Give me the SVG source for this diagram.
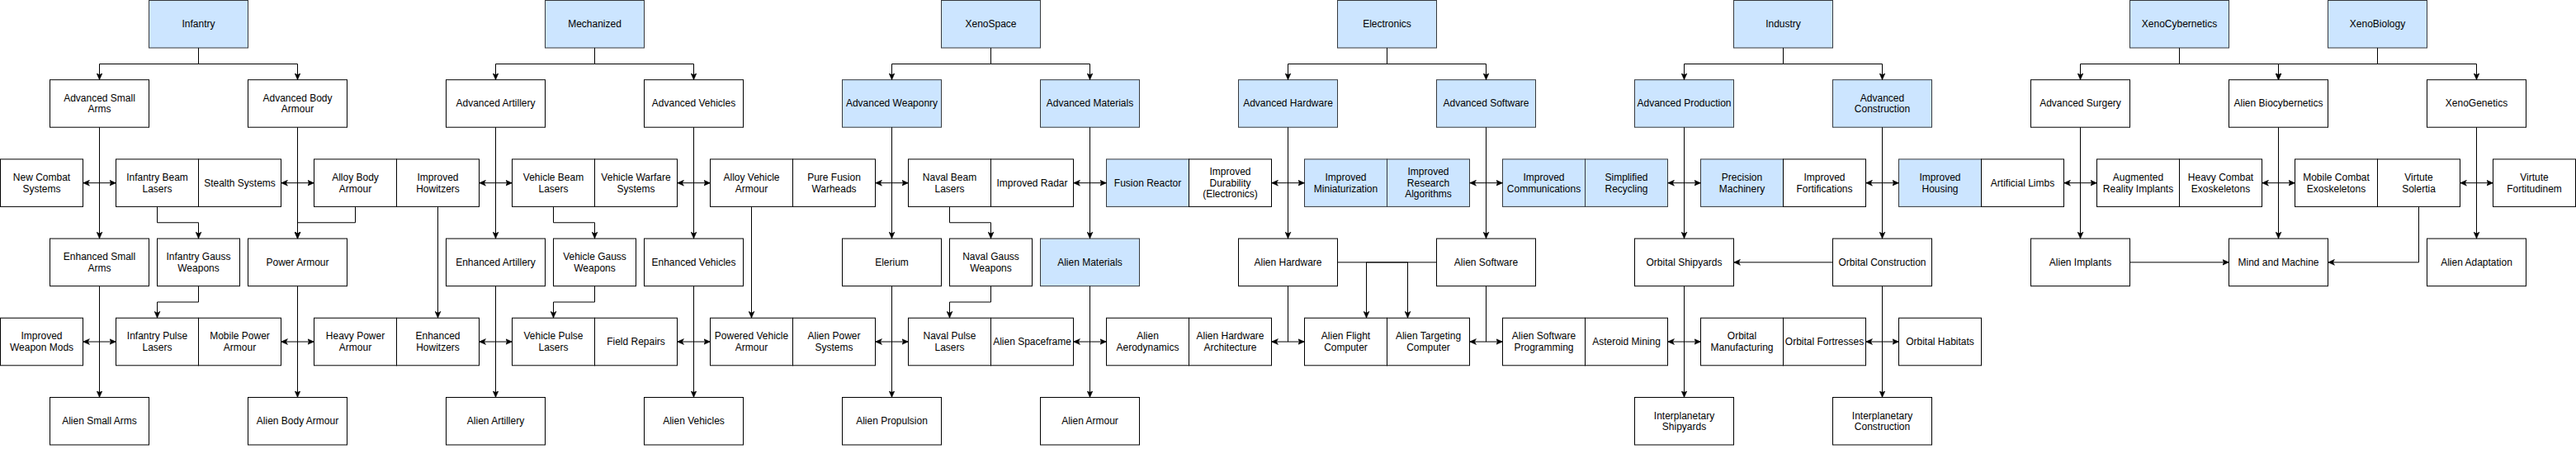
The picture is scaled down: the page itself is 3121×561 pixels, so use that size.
<svg xmlns="http://www.w3.org/2000/svg" width="3121" height="561" viewBox="0 0 3121 561">
<style>
rect{fill:#ffffff;stroke:#000000;stroke-width:1}
rect.b{fill:#cce5ff;stroke:#36393d}
text{font-family:"Liberation Sans",Arial,Helvetica,sans-serif;font-size:12px;fill:#000000;text-anchor:middle}
#connectors path{fill:none;stroke:#000000;stroke-width:1;marker-end:url(#ar)}
#connectors path.d{marker-start:url(#ar)}
#connectors path.n{marker-end:none}
</style>
<defs>
<marker id="ar" viewBox="0 0 8 8" refX="8" refY="4" markerWidth="8" markerHeight="8" markerUnits="userSpaceOnUse" orient="auto-start-reverse">
<path d="M0,0.5 L8,4 L0,7.5 L2,4 Z" fill="#000000" stroke="#000000" stroke-width="0.5"/>
</marker>
</defs>
<rect x="0" y="0" width="3121" height="561" style="fill:#ffffff;stroke:none"/>

<!-- Row 1 -->
<g id="infantry"><rect class="b" x="180.5" y="0.5" width="120" height="57.5"/><text x="240.5" y="33.25">Infantry</text></g>
<g id="mechanized"><rect class="b" x="660.5" y="0.5" width="120" height="57.5"/><text x="720.5" y="33.25">Mechanized</text></g>
<g id="xenospace"><rect class="b" x="1140.5" y="0.5" width="120" height="57.5"/><text x="1200.5" y="33.25">XenoSpace</text></g>
<g id="electronics"><rect class="b" x="1620.5" y="0.5" width="120" height="57.5"/><text x="1680.5" y="33.25">Electronics</text></g>
<g id="industry"><rect class="b" x="2100.5" y="0.5" width="120" height="57.5"/><text x="2160.5" y="33.25">Industry</text></g>
<g id="xenocybernetics"><rect class="b" x="2580.5" y="0.5" width="120" height="57.5"/><text x="2640.5" y="33.25">XenoCybernetics</text></g>
<g id="xenobiology"><rect class="b" x="2820.5" y="0.5" width="120" height="57.5"/><text x="2880.5" y="33.25">XenoBiology</text></g>

<!-- Row 2 -->
<g id="adv_small_arms"><rect x="60.5" y="96.7" width="120" height="57.5"/><text x="120.5" y="122.75">Advanced Small</text><text x="120.5" y="136.35">Arms</text></g>
<g id="adv_body_armour"><rect x="300.5" y="96.7" width="120" height="57.5"/><text x="360.5" y="122.75">Advanced Body</text><text x="360.5" y="136.35">Armour</text></g>
<g id="adv_artillery"><rect x="540.5" y="96.7" width="120" height="57.5"/><text x="600.5" y="129.45">Advanced Artillery</text></g>
<g id="adv_vehicles"><rect x="780.5" y="96.7" width="120" height="57.5"/><text x="840.5" y="129.45">Advanced Vehicles</text></g>
<g id="adv_weaponry"><rect class="b" x="1020.5" y="96.7" width="120" height="57.5"/><text x="1080.5" y="129.45">Advanced Weaponry</text></g>
<g id="adv_materials"><rect class="b" x="1260.5" y="96.7" width="120" height="57.5"/><text x="1320.5" y="129.45">Advanced Materials</text></g>
<g id="adv_hardware"><rect class="b" x="1500.5" y="96.7" width="120" height="57.5"/><text x="1560.5" y="129.45">Advanced Hardware</text></g>
<g id="adv_software"><rect class="b" x="1740.5" y="96.7" width="120" height="57.5"/><text x="1800.5" y="129.45">Advanced Software</text></g>
<g id="adv_production"><rect class="b" x="1980.5" y="96.7" width="120" height="57.5"/><text x="2040.5" y="129.45">Advanced Production</text></g>
<g id="adv_construction"><rect class="b" x="2220.5" y="96.7" width="120" height="57.5"/><text x="2280.5" y="122.75">Advanced</text><text x="2280.5" y="136.35">Construction</text></g>
<g id="adv_surgery"><rect x="2460.5" y="96.7" width="120" height="57.5"/><text x="2520.5" y="129.45">Advanced Surgery</text></g>
<g id="alien_biocybernetics"><rect x="2700.5" y="96.7" width="120" height="57.5"/><text x="2760.5" y="129.45">Alien Biocybernetics</text></g>
<g id="xenogenetics"><rect x="2940.5" y="96.7" width="120" height="57.5"/><text x="3000.5" y="129.45">XenoGenetics</text></g>

<!-- Row 3 -->
<g id="new_combat_systems"><rect x="0.5" y="192.9" width="100" height="57.5"/><text x="50.5" y="218.95">New Combat</text><text x="50.5" y="232.55">Systems</text></g>
<g id="infantry_beam_lasers"><rect x="140.5" y="192.9" width="100" height="57.5"/><text x="190.5" y="218.95">Infantry Beam</text><text x="190.5" y="232.55">Lasers</text></g>
<g id="stealth_systems"><rect x="240.5" y="192.9" width="100" height="57.5"/><text x="290.5" y="225.65">Stealth Systems</text></g>
<g id="alloy_body_armour"><rect x="380.5" y="192.9" width="100" height="57.5"/><text x="430.5" y="218.95">Alloy Body</text><text x="430.5" y="232.55">Armour</text></g>
<g id="improved_howitzers"><rect x="480.5" y="192.9" width="100" height="57.5"/><text x="530.5" y="218.95">Improved</text><text x="530.5" y="232.55">Howitzers</text></g>
<g id="vehicle_beam_lasers"><rect x="620.5" y="192.9" width="100" height="57.5"/><text x="670.5" y="218.95">Vehicle Beam</text><text x="670.5" y="232.55">Lasers</text></g>
<g id="vehicle_warfare_systems"><rect x="720.5" y="192.9" width="100" height="57.5"/><text x="770.5" y="218.95">Vehicle Warfare</text><text x="770.5" y="232.55">Systems</text></g>
<g id="alloy_vehicle_armour"><rect x="860.5" y="192.9" width="100" height="57.5"/><text x="910.5" y="218.95">Alloy Vehicle</text><text x="910.5" y="232.55">Armour</text></g>
<g id="pure_fusion_warheads"><rect x="960.5" y="192.9" width="100" height="57.5"/><text x="1010.5" y="218.95">Pure Fusion</text><text x="1010.5" y="232.55">Warheads</text></g>
<g id="naval_beam_lasers"><rect x="1100.5" y="192.9" width="100" height="57.5"/><text x="1150.5" y="218.95">Naval Beam</text><text x="1150.5" y="232.55">Lasers</text></g>
<g id="improved_radar"><rect x="1200.5" y="192.9" width="100" height="57.5"/><text x="1250.5" y="225.65">Improved Radar</text></g>
<g id="fusion_reactor"><rect class="b" x="1340.5" y="192.9" width="100" height="57.5"/><text x="1390.5" y="225.65">Fusion Reactor</text></g>
<g id="improved_durability"><rect x="1440.5" y="192.9" width="100" height="57.5"/><text x="1490.5" y="212.25">Improved</text><text x="1490.5" y="225.85">Durability</text><text x="1490.5" y="239.45">(Electronics)</text></g>
<g id="improved_miniaturization"><rect class="b" x="1580.5" y="192.9" width="100" height="57.5"/><text x="1630.5" y="218.95">Improved</text><text x="1630.5" y="232.55">Miniaturization</text></g>
<g id="improved_research_algorithms"><rect class="b" x="1680.5" y="192.9" width="100" height="57.5"/><text x="1730.5" y="212.25">Improved</text><text x="1730.5" y="225.85">Research</text><text x="1730.5" y="239.45">Algorithms</text></g>
<g id="improved_communications"><rect class="b" x="1820.5" y="192.9" width="100" height="57.5"/><text x="1870.5" y="218.95">Improved</text><text x="1870.5" y="232.55">Communications</text></g>
<g id="simplified_recycling"><rect class="b" x="1920.5" y="192.9" width="100" height="57.5"/><text x="1970.5" y="218.95">Simplified</text><text x="1970.5" y="232.55">Recycling</text></g>
<g id="precision_machinery"><rect class="b" x="2060.5" y="192.9" width="100" height="57.5"/><text x="2110.5" y="218.95">Precision</text><text x="2110.5" y="232.55">Machinery</text></g>
<g id="improved_fortifications"><rect x="2160.5" y="192.9" width="100" height="57.5"/><text x="2210.5" y="218.95">Improved</text><text x="2210.5" y="232.55">Fortifications</text></g>
<g id="improved_housing"><rect class="b" x="2300.5" y="192.9" width="100" height="57.5"/><text x="2350.5" y="218.95">Improved</text><text x="2350.5" y="232.55">Housing</text></g>
<g id="artificial_limbs"><rect x="2400.5" y="192.9" width="100" height="57.5"/><text x="2450.5" y="225.65">Artificial Limbs</text></g>
<g id="augmented_reality_implants"><rect x="2540.5" y="192.9" width="100" height="57.5"/><text x="2590.5" y="218.95">Augmented</text><text x="2590.5" y="232.55">Reality Implants</text></g>
<g id="heavy_combat_exoskeletons"><rect x="2640.5" y="192.9" width="100" height="57.5"/><text x="2690.5" y="218.95">Heavy Combat</text><text x="2690.5" y="232.55">Exoskeletons</text></g>
<g id="mobile_combat_exoskeletons"><rect x="2780.5" y="192.9" width="100" height="57.5"/><text x="2830.5" y="218.95">Mobile Combat</text><text x="2830.5" y="232.55">Exoskeletons</text></g>
<g id="virtute_solertia"><rect x="2880.5" y="192.9" width="100" height="57.5"/><text x="2930.5" y="218.95">Virtute</text><text x="2930.5" y="232.55">Solertia</text></g>
<g id="virtute_fortitudinem"><rect x="3020.5" y="192.9" width="100" height="57.5"/><text x="3070.5" y="218.95">Virtute</text><text x="3070.5" y="232.55">Fortitudinem</text></g>

<!-- Row 4 -->
<g id="enhanced_small_arms"><rect x="60.5" y="289.1" width="120" height="57.5"/><text x="120.5" y="315.15">Enhanced Small</text><text x="120.5" y="328.75">Arms</text></g>
<g id="infantry_gauss_weapons"><rect x="190.5" y="289.1" width="100" height="57.5"/><text x="240.5" y="315.15">Infantry Gauss</text><text x="240.5" y="328.75">Weapons</text></g>
<g id="power_armour"><rect x="300.5" y="289.1" width="120" height="57.5"/><text x="360.5" y="321.85">Power Armour</text></g>
<g id="enhanced_artillery"><rect x="540.5" y="289.1" width="120" height="57.5"/><text x="600.5" y="321.85">Enhanced Artillery</text></g>
<g id="vehicle_gauss_weapons"><rect x="670.5" y="289.1" width="100" height="57.5"/><text x="720.5" y="315.15">Vehicle Gauss</text><text x="720.5" y="328.75">Weapons</text></g>
<g id="enhanced_vehicles"><rect x="780.5" y="289.1" width="120" height="57.5"/><text x="840.5" y="321.85">Enhanced Vehicles</text></g>
<g id="elerium"><rect x="1020.5" y="289.1" width="120" height="57.5"/><text x="1080.5" y="321.85">Elerium</text></g>
<g id="naval_gauss_weapons"><rect x="1150.5" y="289.1" width="100" height="57.5"/><text x="1200.5" y="315.15">Naval Gauss</text><text x="1200.5" y="328.75">Weapons</text></g>
<g id="alien_materials"><rect class="b" x="1260.5" y="289.1" width="120" height="57.5"/><text x="1320.5" y="321.85">Alien Materials</text></g>
<g id="alien_hardware"><rect x="1500.5" y="289.1" width="120" height="57.5"/><text x="1560.5" y="321.85">Alien Hardware</text></g>
<g id="alien_software"><rect x="1740.5" y="289.1" width="120" height="57.5"/><text x="1800.5" y="321.85">Alien Software</text></g>
<g id="orbital_shipyards"><rect x="1980.5" y="289.1" width="120" height="57.5"/><text x="2040.5" y="321.85">Orbital Shipyards</text></g>
<g id="orbital_construction"><rect x="2220.5" y="289.1" width="120" height="57.5"/><text x="2280.5" y="321.85">Orbital Construction</text></g>
<g id="alien_implants"><rect x="2460.5" y="289.1" width="120" height="57.5"/><text x="2520.5" y="321.85">Alien Implants</text></g>
<g id="mind_and_machine"><rect x="2700.5" y="289.1" width="120" height="57.5"/><text x="2760.5" y="321.85">Mind and Machine</text></g>
<g id="alien_adaptation"><rect x="2940.5" y="289.1" width="120" height="57.5"/><text x="3000.5" y="321.85">Alien Adaptation</text></g>

<!-- Row 5 -->
<g id="improved_weapon_mods"><rect x="0.5" y="385.3" width="100" height="57.5"/><text x="50.5" y="411.35">Improved</text><text x="50.5" y="424.95">Weapon Mods</text></g>
<g id="infantry_pulse_lasers"><rect x="140.5" y="385.3" width="100" height="57.5"/><text x="190.5" y="411.35">Infantry Pulse</text><text x="190.5" y="424.95">Lasers</text></g>
<g id="mobile_power_armour"><rect x="240.5" y="385.3" width="100" height="57.5"/><text x="290.5" y="411.35">Mobile Power</text><text x="290.5" y="424.95">Armour</text></g>
<g id="heavy_power_armour"><rect x="380.5" y="385.3" width="100" height="57.5"/><text x="430.5" y="411.35">Heavy Power</text><text x="430.5" y="424.95">Armour</text></g>
<g id="enhanced_howitzers"><rect x="480.5" y="385.3" width="100" height="57.5"/><text x="530.5" y="411.35">Enhanced</text><text x="530.5" y="424.95">Howitzers</text></g>
<g id="vehicle_pulse_lasers"><rect x="620.5" y="385.3" width="100" height="57.5"/><text x="670.5" y="411.35">Vehicle Pulse</text><text x="670.5" y="424.95">Lasers</text></g>
<g id="field_repairs"><rect x="720.5" y="385.3" width="100" height="57.5"/><text x="770.5" y="418.05">Field Repairs</text></g>
<g id="powered_vehicle_armour"><rect x="860.5" y="385.3" width="100" height="57.5"/><text x="910.5" y="411.35">Powered Vehicle</text><text x="910.5" y="424.95">Armour</text></g>
<g id="alien_power_systems"><rect x="960.5" y="385.3" width="100" height="57.5"/><text x="1010.5" y="411.35">Alien Power</text><text x="1010.5" y="424.95">Systems</text></g>
<g id="naval_pulse_lasers"><rect x="1100.5" y="385.3" width="100" height="57.5"/><text x="1150.5" y="411.35">Naval Pulse</text><text x="1150.5" y="424.95">Lasers</text></g>
<g id="alien_spaceframe"><rect x="1200.5" y="385.3" width="100" height="57.5"/><text x="1250.5" y="418.05">Alien Spaceframe</text></g>
<g id="alien_aerodynamics"><rect x="1340.5" y="385.3" width="100" height="57.5"/><text x="1390.5" y="411.35">Alien</text><text x="1390.5" y="424.95">Aerodynamics</text></g>
<g id="alien_hardware_architecture"><rect x="1440.5" y="385.3" width="100" height="57.5"/><text x="1490.5" y="411.35">Alien Hardware</text><text x="1490.5" y="424.95">Architecture</text></g>
<g id="alien_flight_computer"><rect x="1580.5" y="385.3" width="100" height="57.5"/><text x="1630.5" y="411.35">Alien Flight</text><text x="1630.5" y="424.95">Computer</text></g>
<g id="alien_targeting_computer"><rect x="1680.5" y="385.3" width="100" height="57.5"/><text x="1730.5" y="411.35">Alien Targeting</text><text x="1730.5" y="424.95">Computer</text></g>
<g id="alien_software_programming"><rect x="1820.5" y="385.3" width="100" height="57.5"/><text x="1870.5" y="411.35">Alien Software</text><text x="1870.5" y="424.95">Programming</text></g>
<g id="asteroid_mining"><rect x="1920.5" y="385.3" width="100" height="57.5"/><text x="1970.5" y="418.05">Asteroid Mining</text></g>
<g id="orbital_manufacturing"><rect x="2060.5" y="385.3" width="100" height="57.5"/><text x="2110.5" y="411.35">Orbital</text><text x="2110.5" y="424.95">Manufacturing</text></g>
<g id="orbital_fortresses"><rect x="2160.5" y="385.3" width="100" height="57.5"/><text x="2210.5" y="418.05">Orbital Fortresses</text></g>
<g id="orbital_habitats"><rect x="2300.5" y="385.3" width="100" height="57.5"/><text x="2350.5" y="418.05">Orbital Habitats</text></g>

<!-- Row 6 -->
<g id="alien_small_arms"><rect x="60.5" y="481.5" width="120" height="57.5"/><text x="120.5" y="514.25">Alien Small Arms</text></g>
<g id="alien_body_armour"><rect x="300.5" y="481.5" width="120" height="57.5"/><text x="360.5" y="514.25">Alien Body Armour</text></g>
<g id="alien_artillery"><rect x="540.5" y="481.5" width="120" height="57.5"/><text x="600.5" y="514.25">Alien Artillery</text></g>
<g id="alien_vehicles"><rect x="780.5" y="481.5" width="120" height="57.5"/><text x="840.5" y="514.25">Alien Vehicles</text></g>
<g id="alien_propulsion"><rect x="1020.5" y="481.5" width="120" height="57.5"/><text x="1080.5" y="514.25">Alien Propulsion</text></g>
<g id="alien_armour"><rect x="1260.5" y="481.5" width="120" height="57.5"/><text x="1320.5" y="514.25">Alien Armour</text></g>
<g id="interplanetary_shipyards"><rect x="1980.5" y="481.5" width="120" height="57.5"/><text x="2040.5" y="507.55">Interplanetary</text><text x="2040.5" y="521.15">Shipyards</text></g>
<g id="interplanetary_construction"><rect x="2220.5" y="481.5" width="120" height="57.5"/><text x="2280.5" y="507.55">Interplanetary</text><text x="2280.5" y="521.15">Construction</text></g>

<g id="connectors">
<!-- top buses -->
<path d="M240.5 58 V77.5 H120.5 V96.7"/><path d="M240.5 58 V77.5 H360.5 V96.7"/>
<path d="M720.5 58 V77.5 H600.5 V96.7"/><path d="M720.5 58 V77.5 H840.5 V96.7"/>
<path d="M1200.5 58 V77.5 H1080.5 V96.7"/><path d="M1200.5 58 V77.5 H1320.5 V96.7"/>
<path d="M1680.5 58 V77.5 H1560.5 V96.7"/><path d="M1680.5 58 V77.5 H1800.5 V96.7"/>
<path d="M2160.5 58 V77.5 H2040.5 V96.7"/><path d="M2160.5 58 V77.5 H2280.5 V96.7"/>
<path d="M2640.5 58 V77.5 H2520.5 V96.7"/><path d="M2640.5 58 V77.5 H2760.5 V96.7"/>
<path d="M2880.5 58 V77.5 H2760.5 V96.7"/><path d="M2880.5 58 V77.5 H3000.5 V96.7"/>
<!-- row 2 to row 4 -->
<path d="M120.5 154.2 V289.1"/><path d="M360.5 154.2 V289.1"/><path d="M600.5 154.2 V289.1"/><path d="M840.5 154.2 V289.1"/>
<path d="M1080.5 154.2 V289.1"/><path d="M1320.5 154.2 V289.1"/><path d="M1560.5 154.2 V289.1"/><path d="M1800.5 154.2 V289.1"/>
<path d="M2040.5 154.2 V289.1"/><path d="M2280.5 154.2 V289.1"/><path d="M2520.5 154.2 V289.1"/><path d="M2760.5 154.2 V289.1"/>
<path d="M3000.5 154.2 V289.1"/>
<!-- row 4 to row 6 -->
<path d="M120.5 346.6 V481.5"/><path d="M360.5 346.6 V481.5"/><path d="M600.5 346.6 V481.5"/><path d="M840.5 346.6 V481.5"/>
<path d="M1080.5 346.6 V481.5"/><path d="M1320.5 346.6 V481.5"/><path d="M2040.5 346.6 V481.5"/><path d="M2280.5 346.6 V481.5"/>
<!-- double arrows row 3 -->
<path class="d" d="M100.5 221.65 H140.5"/><path class="d" d="M340.5 221.65 H380.5"/><path class="d" d="M580.5 221.65 H620.5"/>
<path class="d" d="M820.5 221.65 H860.5"/><path class="d" d="M1060.5 221.65 H1100.5"/><path class="d" d="M1300.5 221.65 H1340.5"/>
<path class="d" d="M1540.5 221.65 H1580.5"/><path class="d" d="M1780.5 221.65 H1820.5"/><path class="d" d="M2020.5 221.65 H2060.5"/>
<path class="d" d="M2260.5 221.65 H2300.5"/><path class="d" d="M2500.5 221.65 H2540.5"/><path class="d" d="M2740.5 221.65 H2780.5"/>
<path class="d" d="M2980.5 221.65 H3020.5"/>
<!-- double arrows row 5 -->
<path class="d" d="M100.5 414.05 H140.5"/><path class="d" d="M340.5 414.05 H380.5"/><path class="d" d="M580.5 414.05 H620.5"/>
<path class="d" d="M820.5 414.05 H860.5"/><path class="d" d="M1060.5 414.05 H1100.5"/><path class="d" d="M1300.5 414.05 H1340.5"/>
<path class="d" d="M1540.5 414.05 H1580.5"/><path class="d" d="M1780.5 414.05 H1820.5"/><path class="d" d="M2020.5 414.05 H2060.5"/>
<path class="d" d="M2260.5 414.05 H2300.5"/>
<!-- beam to gauss, gauss to pulse -->
<path d="M190.5 250.4 V269.75 H240.5 V289.1"/><path d="M670.5 250.4 V269.75 H720.5 V289.1"/><path d="M1150.5 250.4 V269.75 H1200.5 V289.1"/>
<path d="M240.5 346.6 V366 H190.5 V385.3"/><path d="M720.5 346.6 V366 H670.5 V385.3"/><path d="M1200.5 346.6 V366 H1150.5 V385.3"/>
<!-- other -->
<path d="M430.5 250.4 V269.75 H360.5 V289.1"/>
<path d="M530.5 250.4 V385.3"/>
<path d="M910.5 250.4 V385.3"/>
<path class="n" d="M1560.5 346.6 V414.05"/>
<path class="n" d="M1800.5 346.6 V414.05"/>
<path d="M1620.5 317.85 H1705.5 V385.3"/>
<path d="M1740.5 317.85 H1655.5 V385.3"/>
<path d="M2220.5 317.85 H2100.5"/>
<path d="M2580.5 317.85 H2700.5"/>
<path d="M2930.5 250.4 V317.85 H2820.5"/>
</g>
</svg>
